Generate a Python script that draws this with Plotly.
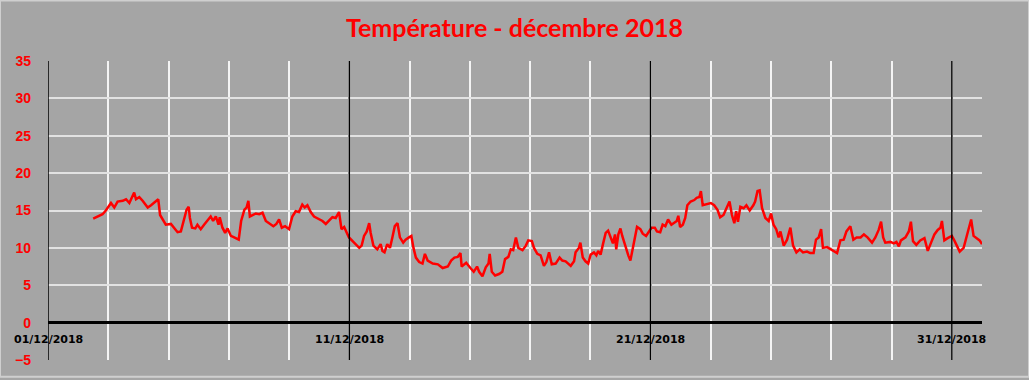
import datetime as dt
import plotly.graph_objects as go

# Day offsets since 2018-12-01 00:00 and temperatures (°C)
day_offsets = [
    1.50, 1.59, 1.70, 1.81, 1.92, 2.09, 2.20, 2.31, 2.48, 2.59, 2.70, 2.81, 2.86, 2.92, 3.03, 3.14,
    3.31, 3.42, 3.58, 3.66, 3.72, 3.80, 3.91, 4.08, 4.19, 4.30, 4.41, 4.52, 4.60, 4.67, 4.71, 4.78,
    4.89, 4.96, 5.07, 5.18, 5.29, 5.40, 5.48, 5.57, 5.66, 5.70, 5.79, 5.88, 5.96, 6.07, 6.18, 6.33,
    6.41, 6.52, 6.59, 6.65, 6.70, 6.79, 6.90, 7.01, 7.12, 7.23, 7.34, 7.48, 7.58, 7.67, 7.76, 7.87,
    8.00, 8.11, 8.22, 8.33, 8.44, 8.52, 8.61, 8.72, 8.83, 9.00, 9.11, 9.22, 9.33, 9.44, 9.55, 9.66,
    9.74, 9.83, 9.92, 9.99, 10.11, 10.22, 10.33, 10.41, 10.49, 10.58, 10.66, 10.71, 10.80, 10.93,
    11.04, 11.10, 11.17, 11.26, 11.35, 11.43, 11.51, 11.60, 11.68, 11.79, 11.87, 11.98, 12.06, 12.13,
    12.21, 12.32, 12.43, 12.51, 12.60, 12.77, 12.94, 13.10, 13.27, 13.38, 13.49, 13.60, 13.69, 13.73,
    13.88, 14.02, 14.13, 14.24, 14.31, 14.42, 14.53, 14.62, 14.66, 14.73, 14.84, 14.97, 15.08, 15.17,
    15.28, 15.36, 15.44, 15.53, 15.61, 15.75, 15.86, 15.94, 16.06, 16.13, 16.24, 16.35, 16.46, 16.54,
    16.63, 16.72, 16.85, 16.98, 17.07, 17.18, 17.35, 17.46, 17.51, 17.62, 17.67, 17.75, 17.84, 17.93,
    18.01, 18.12, 18.20, 18.26, 18.34, 18.42, 18.51, 18.59, 18.67, 18.75, 18.82, 18.86, 18.93, 19.00,
    19.06, 19.17, 19.26, 19.33, 19.41, 19.50, 19.55, 19.66, 19.74, 19.85, 19.94, 20.03, 20.14, 20.21,
    20.32, 20.40, 20.49, 20.58, 20.69, 20.76, 20.87, 20.92, 20.98, 21.07, 21.15, 21.22, 21.33, 21.45,
    21.53, 21.62, 21.67, 21.73, 21.84, 22.00, 22.11, 22.22, 22.31, 22.42, 22.53, 22.62, 22.70, 22.78,
    22.84, 22.90, 22.98, 23.09, 23.18, 23.29, 23.41, 23.47, 23.55, 23.62, 23.70, 23.81, 23.92, 24.00,
    24.08, 24.17, 24.25, 24.31, 24.42, 24.53, 24.64, 24.73, 24.84, 24.95, 25.06, 25.19, 25.30, 25.41,
    25.49, 25.58, 25.66, 25.72, 25.86, 25.99, 26.10, 26.19, 26.30, 26.41, 26.50, 26.63, 26.73, 26.84,
    26.97, 27.08, 27.20, 27.35, 27.46, 27.57, 27.65, 27.72, 27.79, 27.96, 28.07, 28.16, 28.24, 28.31,
    28.46, 28.57, 28.64, 28.71, 28.82, 28.95, 29.09, 29.20, 29.31, 29.42, 29.53, 29.62, 29.67, 29.75,
    29.86, 30.00, 30.08, 30.17, 30.26, 30.39, 30.48, 30.56, 30.64, 30.72, 30.83, 30.92, 31.00,
]
temperatures = [
    13.9, 14.1, 14.3, 14.5, 15.0, 16.0, 15.4, 16.2, 16.3, 16.5, 16.0, 17.0, 17.4, 16.5, 16.8, 16.3,
    15.4, 15.7, 16.3, 16.5, 14.4, 13.9, 13.1, 13.2, 12.6, 12.1, 12.2, 13.8, 15.1, 15.5, 14.0, 12.7,
    12.6, 13.1, 12.5, 13.1, 13.6, 14.2, 13.6, 14.2, 13.1, 14.1, 12.7, 12.0, 12.6, 11.6, 11.4, 11.1,
    13.6, 15.1, 15.4, 16.3, 14.2, 14.4, 14.6, 14.5, 14.7, 13.6, 13.3, 12.9, 13.2, 13.8, 12.7, 12.9,
    12.5, 14.2, 14.9, 14.8, 15.8, 15.4, 15.7, 14.8, 14.2, 13.9, 13.6, 13.2, 13.6, 14.1, 14.0, 14.8,
    12.5, 12.8, 12.0, 11.4, 10.9, 10.5, 10.0, 10.3, 11.6, 12.2, 13.3, 12.0, 10.3, 9.8,
    10.5, 9.6, 9.4, 10.5, 10.0, 11.4, 12.9, 13.3, 11.4, 10.7, 11.1, 11.4, 11.6, 10.0,
    8.7, 8.1, 7.9, 9.2, 8.3, 7.9, 7.8, 7.3, 7.5, 8.3, 8.7, 8.8, 9.3, 7.5,
    8.0, 7.3, 6.8, 7.5, 6.8, 6.2, 7.4, 7.9, 9.2, 6.8, 6.3, 6.5, 6.8, 8.5,
    8.8, 9.8, 9.7, 11.4, 10.0, 9.7, 10.3, 11.0, 10.9, 10.0, 9.2, 9.0, 7.6, 8.1,
    9.4, 7.8, 7.9, 8.7, 8.3, 8.2, 7.6, 8.2, 9.4, 10.0, 10.7, 8.7, 8.2, 7.9,
    9.1, 9.4, 9.0, 9.6, 9.1, 10.5, 12.0, 12.3, 11.4, 10.6, 11.8, 9.8, 11.8, 12.6,
    11.6, 10.0, 9.0, 8.3, 9.8, 11.4, 12.8, 12.5, 11.9, 11.6, 12.1, 12.7, 12.7, 12.2,
    12.1, 13.1, 12.9, 13.8, 13.1, 13.3, 13.6, 14.3, 12.8, 13.1, 14.0, 15.7, 16.2, 16.4,
    16.7, 16.8, 17.6, 15.7, 15.8, 16.0, 15.7, 15.1, 14.1, 14.4, 15.4, 16.2, 14.4, 13.3,
    14.9, 13.5, 15.5, 15.3, 15.7, 15.0, 15.7, 16.2, 17.6, 17.7, 15.3, 14.0, 13.6, 14.6,
    13.1, 12.5, 11.4, 12.2, 10.3, 11.1, 12.7, 10.3, 9.4, 9.8, 9.4, 9.5, 9.3, 9.3,
    11.1, 11.4, 12.5, 10.0, 10.1, 9.8, 9.6, 9.3, 11.0, 11.1, 12.2, 12.9, 11.1, 11.4,
    11.4, 11.8, 11.4, 10.7, 11.4, 12.4, 13.5, 11.4, 10.7, 10.8, 10.6, 10.8, 10.2, 11.0,
    11.4, 12.2, 13.5, 10.9, 10.4, 11.0, 11.3, 9.6, 10.7, 11.8, 12.4, 12.7, 13.6, 11.0,
    11.3, 11.6, 11.0, 10.2, 9.5, 10.0, 11.3, 12.4, 13.8, 11.6, 11.3, 11.0, 10.5,
]

start = dt.datetime(2018, 12, 1)
end = dt.datetime(2019, 1, 1)
times = [start + dt.timedelta(days=d) for d in day_offsets]

label_dates = ["2018-12-01", "2018-12-11", "2018-12-21", "2018-12-31"]
label_texts = ["01/12/2018", "11/12/2018", "21/12/2018", "31/12/2018"]

title_text = "Température - décembre 2018"
y_min, y_max, y_step = -5, 35, 5

BG = "#A5A5A5"

fig = go.Figure()
fig.add_trace(go.Scatter(
    x=times, y=temperatures, mode="lines",
    line=dict(color="#FF0000", width=2.5),
    hoverinfo="x+y", showlegend=False,
))

shapes = []
for d in label_dates:
    shapes.append(dict(type="line", xref="x", yref="y", x0=d, x1=d, y0=y_min, y1=y_max,
                       line=dict(color="black", width=1.5), layer="above"))
shapes.append(dict(type="rect", xref="paper", yref="paper", x0=-48 / 934, x1=1 + 47 / 934,
                   y0=-17 / 302, y1=1 + 61 / 302, line=dict(color="#CFCFCF", width=2)))

annotations = [
    dict(x=d, y=-2.25, xref="x", yref="y", text=t, showarrow=False,
         font=dict(family="DejaVu Sans", size=11, color="black", weight="bold"),
         xanchor="center", yanchor="middle")
    for d, t in zip(label_dates, label_texts)
]

fig.update_layout(
    width=1029, height=380,
    paper_bgcolor=BG, plot_bgcolor=BG,
    margin=dict(l=48, r=47, t=61, b=17),
    title=dict(text=title_text, x=0.5, xanchor="center", y=1 - 28 / 380, yanchor="middle",
               yref="container",
               font=dict(family="Lato", size=25, color="#FF0000", weight="bold")),
    xaxis=dict(type="date", range=[start, end], tick0="2018-12-01", dtick=2 * 86400000,
               showticklabels=False, ticks="", showgrid=True, gridcolor="#F4F4F4", gridwidth=1.5,
               zeroline=False, showline=False, fixedrange=True),
    yaxis=dict(range=[y_min, y_max], dtick=y_step, tick0=0, showgrid=True,
               gridcolor="#E2E2E2", gridwidth=1.5, zeroline=True, zerolinecolor="black",
               zerolinewidth=2.5, showline=False, ticks="", ticklabelstandoff=16,
               tickfont=dict(family="Liberation Sans", size=14, color="#FF0000", weight="bold"),
               fixedrange=True),
    shapes=shapes,
    annotations=annotations,
)

fig.write_html(
    "out.html",
    config={"displayModeBar": False},
    post_script="document.body.style.margin='0';document.body.style.overflow='hidden';",
)
